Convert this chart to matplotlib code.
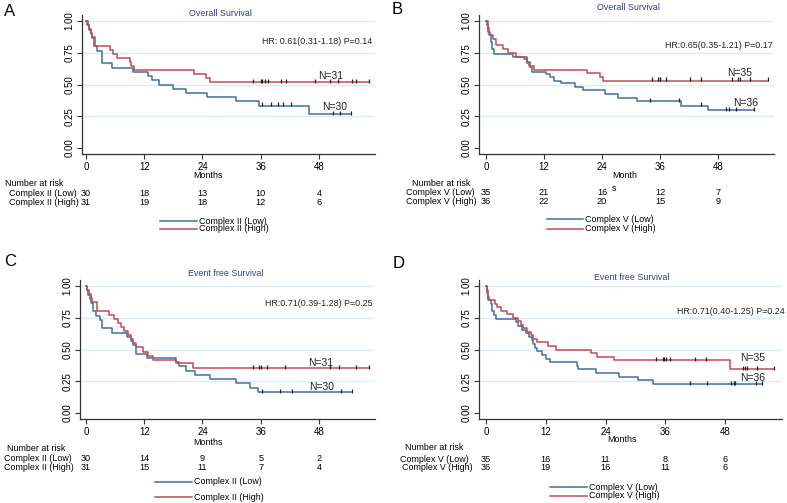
import matplotlib
matplotlib.use("Agg")
import matplotlib.pyplot as plt

plt.rcParams['font.family'] = ['Liberation Sans', 'DejaVu Sans']

W, H = 787, 503
BLUE = '#3f6fa5'
RED = '#c24a52'
GRID = '#dcecf3'
TITLE_COL = '#2f3f80'
FS = 6.4

# ---- data (step points: time in months, survival) ----
# Panel A: overall survival, Complex II
a_low_t = [0, 0.4, 0.7, 1.0, 1.3, 1.6, 2.2, 3.2, 5.3, 9.6, 12.7, 13.5, 15.0, 18.0, 20.7, 25.0, 31.0, 35.7, 46.0, 54.5]
a_low_s = [1.0, 0.967, 0.933, 0.90, 0.867, 0.80, 0.767, 0.667, 0.633, 0.60, 0.567, 0.533, 0.50, 0.467, 0.433, 0.40, 0.367, 0.333, 0.267, 0.267]
a_low_cens = [36.2, 38.2, 39.6, 40.6, 42.2, 50.8, 52.3, 54.5]
a_high_t = [0, 0.3, 0.6, 1.0, 1.3, 1.8, 5.0, 5.6, 6.3, 9.0, 9.3, 9.8, 22.2, 24.8, 25.6, 58.2]
a_high_s = [1.0, 0.968, 0.935, 0.903, 0.871, 0.806, 0.774, 0.742, 0.71, 0.677, 0.645, 0.613, 0.58, 0.548, 0.516, 0.516]
a_high_cens = [34.5, 36.0, 36.3, 36.8, 37.5, 40.2, 41.3, 47.2, 50.3, 52.0, 54.7, 55.6, 58.2]
a_risk_low = [30, 18, 13, 10, 4]
a_risk_high = [31, 19, 18, 12, 6]

# Panel B: overall survival, Complex V
b_low_t = [0, 0.3, 0.5, 0.8, 1.0, 1.3, 1.65, 5.6, 8.4, 9.2, 9.6, 12.5, 13.2, 14.0, 15.5, 18.5, 20.0, 24.6, 27.3, 31.3, 40.3, 46.0, 55.5]
b_low_s = [1.0, 0.972, 0.917, 0.889, 0.833, 0.778, 0.742, 0.714, 0.68, 0.64, 0.60, 0.58, 0.556, 0.53, 0.51, 0.48, 0.453, 0.425, 0.395, 0.368, 0.334, 0.296, 0.296]
b_low_cens = [33.9, 39.9, 44.4, 49.6, 50.2, 51.7, 55.5]
b_high_t = [0, 0.4, 0.7, 1.5, 2.0, 3.5, 4.5, 6.3, 7.8, 8.5, 9.0, 10.0, 21.0, 23.5, 24.3, 58.4]
b_high_s = [1.0, 0.943, 0.886, 0.857, 0.81, 0.78, 0.75, 0.72, 0.70, 0.67, 0.645, 0.618, 0.59, 0.56, 0.53, 0.53]
b_high_cens = [34.3, 35.6, 35.9, 36.1, 37.2, 42.2, 44.4, 50.8, 52.2, 52.5, 54.6, 58.4]
b_risk_low = [35, 21, 16, 12, 7]
b_risk_high = [36, 22, 20, 15, 9]

# Panel C: event free survival, Complex II
c_low_t = [0, 0.3, 0.5, 0.8, 1.0, 1.5, 2.0, 2.8, 3.3, 5.3, 8.5, 9.3, 9.6, 10.3, 12.5, 18.5, 19.2, 20.5, 22.5, 25.5, 31.0, 33.7, 35.5, 54.7]
c_low_s = [1.0, 0.967, 0.933, 0.90, 0.867, 0.80, 0.767, 0.733, 0.667, 0.633, 0.60, 0.567, 0.533, 0.467, 0.433, 0.40, 0.367, 0.333, 0.30, 0.267, 0.233, 0.20, 0.167, 0.167]
c_low_cens = [36.2, 39.9, 42.5, 52.5, 54.7]
c_high_t = [0, 0.3, 0.6, 1.0, 1.2, 2.2, 4.8, 5.7, 6.5, 7.3, 7.8, 8.7, 9.2, 9.7, 10.3, 11.8, 12.8, 13.8, 18.5, 22.0, 58.3]
c_high_s = [1.0, 0.968, 0.935, 0.903, 0.871, 0.806, 0.774, 0.742, 0.71, 0.677, 0.645, 0.613, 0.58, 0.548, 0.516, 0.48, 0.45, 0.42, 0.39, 0.355, 0.355]
c_high_cens = [34.5, 35.6, 36.0, 37.2, 41.0, 50.3, 52.1, 55.7, 58.3]
c_risk_low = [30, 14, 9, 5, 2]
c_risk_high = [31, 15, 11, 7, 4]

# Panel D: event free survival, Complex V
d_low_t = [0, 0.3, 0.5, 1.0, 1.3, 1.6, 2.0, 6.0, 6.5, 7.3, 8.0, 8.7, 9.2, 9.5, 9.8, 10.2, 11.3, 12.0, 12.8, 18.3, 18.5, 22.0, 26.8, 30.5, 33.5, 55.4]
d_low_s = [1.0, 0.943, 0.886, 0.857, 0.80, 0.771, 0.743, 0.714, 0.686, 0.657, 0.629, 0.60, 0.571, 0.543, 0.514, 0.486, 0.457, 0.429, 0.40, 0.371, 0.343, 0.314, 0.286, 0.257, 0.229, 0.229]
d_low_cens = [41.0, 44.3, 49.1, 49.8, 50.1, 54.3, 55.4]
d_high_t = [0, 0.3, 0.5, 0.7, 1.9, 2.2, 3.0, 4.3, 5.5, 6.4, 7.0, 7.5, 8.2, 9.0, 9.5, 10.3, 12.5, 14.0, 21.0, 22.3, 25.7, 49.0, 57.8]
d_high_s = [1.0, 0.972, 0.917, 0.889, 0.861, 0.833, 0.806, 0.778, 0.75, 0.722, 0.694, 0.667, 0.639, 0.611, 0.583, 0.556, 0.528, 0.50, 0.472, 0.444, 0.417, 0.347, 0.347]
d_high_cens = [34.1, 35.5, 35.7, 36.1, 36.9, 42.0, 44.2, 51.6, 52.0, 52.5, 54.4, 57.8]
d_risk_low = [35, 16, 11, 8, 6]
d_risk_high = [36, 19, 16, 11, 6]

risk_times = [0, 12, 24, 36, 48]


def fx(x):
    return x / W


def fy(y):
    return 1 - y / H


fig = plt.figure(figsize=(W / 100, H / 100), dpi=100)


def step_at(t, s, c):
    # survival value at censor time c
    v = s[0]
    for ti, si in zip(t, s):
        if ti <= c:
            v = si
    return v


def panel(x0, ppm, y0, xlo, letter, lpos, title, tpos, hr, hrpos,
          lo_t, lo_s, lo_c, hi_t, hi_s, hi_c, ntext,
          group, risk_lo, risk_hi, rpos, mlab, lgpos):
    y1 = y0 - 127
    xhi = 59.5
    left = x0 + xlo * ppm
    right = x0 + xhi * ppm
    top = y1 - 0.05 * 127
    bottom = y0 + 0.047 * 127
    ax = fig.add_axes([fx(left), fy(bottom), fx(right - left), (bottom - top) / H])
    ax.set_xlim(xlo, xhi)
    ax.set_ylim(-0.047, 1.05)
    for g in [0.25, 0.5, 0.75, 1.0]:
        ax.axhline(g, color=GRID, lw=1.0, zorder=0)
    ax.step(lo_t, lo_s, where='post', color=BLUE, lw=1.1)
    ax.step(hi_t, hi_s, where='post', color=RED, lw=1.1)
    ax.plot(lo_c, [step_at(lo_t, lo_s, c) + 0.01 for c in lo_c], ls='none',
            marker='|', ms=3, mew=0.9, color='#222222')
    ax.plot(hi_c, [step_at(hi_t, hi_s, c) + 0.01 for c in hi_c], ls='none',
            marker='|', ms=3, mew=0.9, color='#222222')
    for sp in ['top', 'right']:
        ax.spines[sp].set_visible(False)
    for sp in ['left', 'bottom']:
        ax.spines[sp].set_color('#333333')
        ax.spines[sp].set_linewidth(0.9)
    ax.set_xticks(risk_times)
    ax.set_yticks([0, 0.25, 0.5, 0.75, 1.0])
    ax.set_yticklabels(['0.00', '0.25', '0.50', '0.75', '1.00'], rotation=90, va='center')
    ax.tick_params(labelsize=7, length=3.5, width=0.8, color='#333333', pad=2)
    ax.set_facecolor('white')

    # annotations
    fig.text(fx(lpos[0]), fy(lpos[1]), letter, fontsize=12, va='center', ha='left')
    fig.text(fx(tpos[0]), fy(tpos[1]), title, fontsize=FS, color=TITLE_COL, ha='center', va='center')
    fig.text(fx(hrpos[0]), fy(hrpos[1]), hr, fontsize=FS, ha='right', va='center', color='#222222')
    for (txt, px, py) in ntext:
        fig.text(fx(px), fy(py), txt, fontsize=7.5, ha='left', va='center', color='#222222')
    fig.text(fx(mlab[0]), fy(mlab[1]), mlab[2], fontsize=FS, ha=mlab[3], va='top',
             multialignment='left', linespacing=1.6)

    # number at risk table
    fig.text(fx(rpos[0]), fy(rpos[1]), 'Number at risk', fontsize=FS, va='center')
    fig.text(fx(rpos[2]), fy(rpos[3]), group + ' (Low)', fontsize=FS, va='center')
    fig.text(fx(rpos[4]), fy(rpos[5]), group + ' (High)', fontsize=FS, va='center')
    for t, nl, nh in zip(risk_times, risk_lo, risk_hi):
        fig.text(fx(x0 + t * ppm), fy(rpos[3]), str(nl), fontsize=6.6, ha='center', va='center')
        fig.text(fx(x0 + t * ppm), fy(rpos[5]), str(nh), fontsize=6.6, ha='center', va='center')

    # legend
    lx0, lx1, ly0, ly1 = lgpos
    fig.add_artist(plt.Line2D([fx(lx0), fx(lx1)], [fy(ly0), fy(ly0)], color=BLUE, lw=1.1))
    fig.add_artist(plt.Line2D([fx(lx0), fx(lx1)], [fy(ly1), fy(ly1)], color=RED, lw=1.1))
    fig.text(fx(lx1 + 2), fy(ly0), group + ' (Low)', fontsize=FS, va='center')
    fig.text(fx(lx1 + 2), fy(ly1), group + ' (High)', fontsize=FS, va='center')
    return ax


panel(86, 4.854, 148, -0.8, 'A', (4, 12), 'Overall Survival', (220, 13),
      'HR: 0.61(0.31-1.18) P=0.14', (372, 41),
      a_low_t, a_low_s, a_low_cens, a_high_t, a_high_s, a_high_cens,
      [('N=31', 318, 76), ('N=30', 322, 107)],
      'Complex II', a_risk_low, a_risk_high, (5, 183, 9, 193, 9, 203),
      (208, 170.5, 'Months', 'center'), (160, 197, 221, 229))

panel(486, 4.833, 148, -1.4, 'B', (392, 10), 'Overall Survival', (628, 7),
      'HR:0.65(0.35-1.21) P=0.17', (773, 45),
      b_low_t, b_low_s, b_low_cens, b_high_t, b_high_s, b_high_cens,
      [('N=35', 727, 73), ('N=36', 733, 103)],
      'Complex V', b_risk_low, b_risk_high, (412, 183, 406, 192.5, 406, 201.5),
      (612, 171, 'Month\ns', 'left'), (547, 583, 219, 229))

panel(86, 4.854, 413, -1.2, 'C', (4, 262), 'Event free Survival', (226, 274),
      'HR:0.71(0.39-1.28) P=0.25', (373, 304),
      c_low_t, c_low_s, c_low_cens, c_high_t, c_high_s, c_high_cens,
      [('N=31', 308, 363), ('N=30', 309, 387)],
      'Complex II', c_risk_low, c_risk_high, (7, 448.5, 4, 458.5, 4, 467.5),
      (208, 438, 'Months', 'center'), (155, 192, 482, 497))

panel(486, 4.98, 413, -1.4, 'D', (393, 263), 'Event free Survival', (632, 278),
      'HR:0.71(0.40-1.25) P=0.24', (785, 311),
      d_low_t, d_low_s, d_low_cens, d_high_t, d_high_s, d_high_cens,
      [('N=35', 740, 358), ('N=36', 740, 378)],
      'Complex V', d_risk_low, d_risk_high, (405, 447, 400, 459, 402, 468),
      (622, 435.5, 'Months', 'center'), (550, 587, 487, 496))

fig.savefig('out.png', dpi=100)
